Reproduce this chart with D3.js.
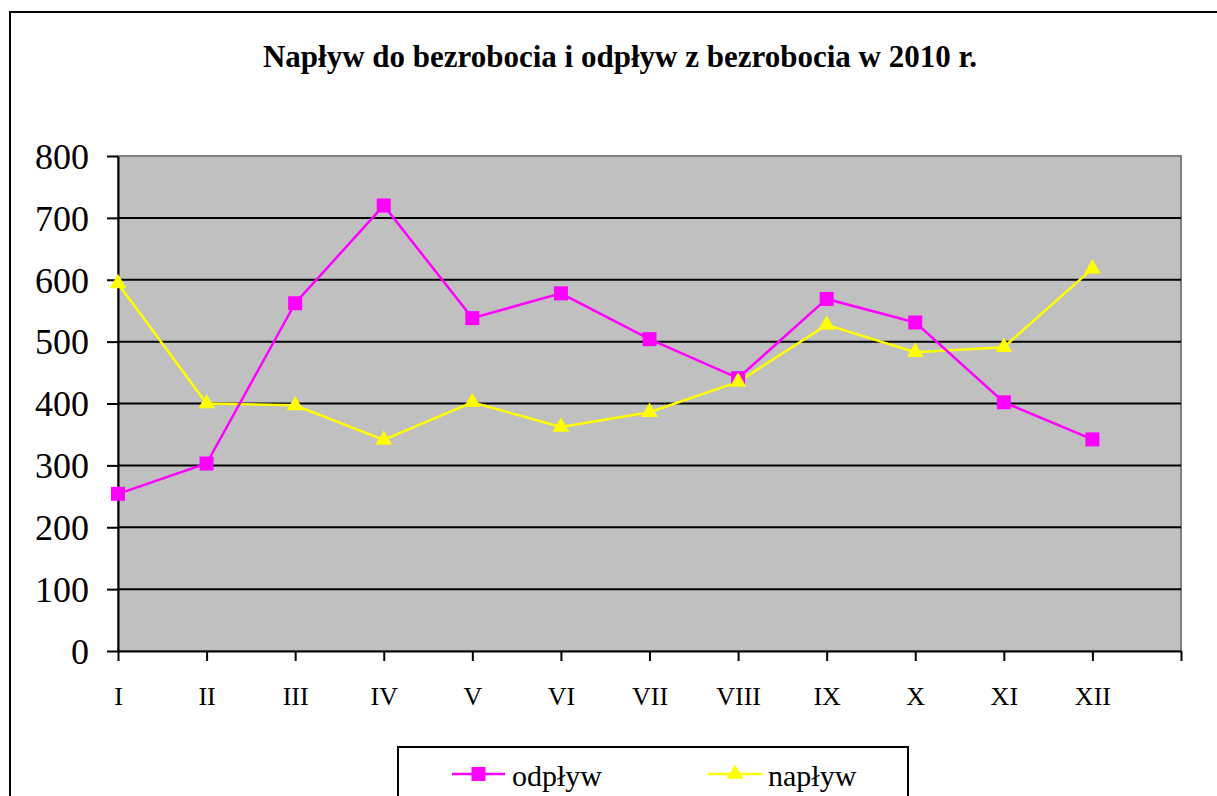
<!DOCTYPE html>
<html><head><meta charset="utf-8">
<script src="https://cdn.jsdelivr.net/npm/d3@7"></script>
<style>body{margin:0;background:#fff}svg{display:block}</style>
</head><body>
<svg id="c" width="1217" height="796"></svg>
<script>
const categories = ["I","II","III","IV","V","VI","VII","VIII","IX","X","XI","XII"];
const odplyw = [254, 303, 562, 720, 538, 578, 504, 441, 569, 531, 402, 342];
const naplyw = [594, 400, 397, 341, 402, 362, 386, 435, 527, 483, 491, 618];
const yTicks = [0,100,200,300,400,500,600,700,800];
const seriesNames = ["odpływ","napływ"];
const title = "Napływ do bezrobocia i odpływ z bezrobocia w 2010 r.";

const FONT = "'Liberation Serif', 'Times New Roman', serif";
const svg = d3.select("#c");
const L=118, R=1181, T=156, B=651;

svg.append("rect").attr("x",10).attr("y",12).attr("width",1230).attr("height",820)
  .attr("fill","#fff").attr("stroke","#000").attr("stroke-width",2);

svg.append("text").attr("x",620).attr("y",67).attr("text-anchor","middle")
  .attr("font-family",FONT).attr("font-weight","bold").attr("font-size",31).text(title);

const slots = categories.concat([" "]);
const x = d3.scalePoint().domain(slots).range([L,R]);
const y = d3.scaleLinear().domain([0,800]).range([B,T]);

svg.append("rect").attr("x",L).attr("y",T).attr("width",R-L).attr("height",B-T)
  .attr("fill","#c0c0c0").attr("stroke","#808080").attr("stroke-width",2);

svg.append("g").selectAll("line").data(yTicks.filter(v=>v>0&&v<800)).join("line")
  .attr("x1",L).attr("x2",R).attr("y1",d=>y(d)).attr("y2",d=>y(d))
  .attr("stroke","#000").attr("stroke-width",2);

const ya = svg.append("g").attr("transform",`translate(${L},0)`)
  .call(d3.axisLeft(y).tickValues(yTicks).tickSize(11).tickPadding(18).tickSizeOuter(0));
ya.attr("font-family",FONT).attr("font-size",36);
ya.select(".domain").attr("stroke","#000").attr("stroke-width",2);
ya.selectAll(".tick line").attr("stroke","#000").attr("stroke-width",2);
ya.selectAll(".tick text").attr("fill","#000").attr("dy","0.34em");

const xa = svg.append("g").attr("transform",`translate(0,${B})`)
  .call(d3.axisBottom(x).tickSize(10).tickPadding(26).tickSizeOuter(0));
xa.attr("font-family",FONT).attr("font-size",26);
xa.select(".domain").attr("stroke","#000").attr("stroke-width",2);
xa.selectAll(".tick line").attr("stroke","#000").attr("stroke-width",2);
xa.selectAll(".tick text").attr("fill","#000");

const line = d3.line().x((d,i)=>x(categories[i])).y(d=>y(d));
const tri = d3.symbol().type(d3.symbolTriangle).size(120);

svg.append("path").datum(naplyw).attr("d",line).attr("fill","none")
  .attr("stroke","#ffff00").attr("stroke-width",2.5);
svg.append("path").datum(odplyw).attr("d",line).attr("fill","none")
  .attr("stroke","#ff00ff").attr("stroke-width",2.5);

svg.append("g").selectAll("rect").data(odplyw).join("rect")
  .attr("x",(d,i)=>x(categories[i])-7).attr("y",d=>y(d)-7)
  .attr("width",14).attr("height",14).attr("fill","#ff00ff");

svg.append("g").selectAll("path").data(naplyw).join("path")
  .attr("d",tri).attr("transform",(d,i)=>`translate(${x(categories[i])},${y(d)})`)
  .attr("fill","#ffff00");

const lg = svg.append("g");
lg.append("rect").attr("x",398).attr("y",747).attr("width",510).attr("height",80)
  .attr("fill","#fff").attr("stroke","#000").attr("stroke-width",2);
const items = [
  {name:seriesNames[0], color:"#ff00ff", x1:452, x2:505, tx:512, marker:"sq"},
  {name:seriesNames[1], color:"#ffff00", x1:708, x2:762, tx:768, marker:"tri"}
];
items.forEach(it=>{
  const ly=774;
  lg.append("line").attr("x1",it.x1).attr("x2",it.x2).attr("y1",ly).attr("y2",ly)
    .attr("stroke",it.color).attr("stroke-width",2.5);
  const cx=(it.x1+it.x2)/2;
  if(it.marker==="sq"){
    lg.append("rect").attr("x",cx-7).attr("y",ly-7).attr("width",14).attr("height",14).attr("fill",it.color);
  } else {
    lg.append("path").attr("d",tri).attr("transform",`translate(${cx},${ly})`).attr("fill",it.color);
  }
  lg.append("text").attr("x",it.tx).attr("y",786).attr("font-family",FONT).attr("font-size",30).text(it.name);
});
</script>
</body></html>
